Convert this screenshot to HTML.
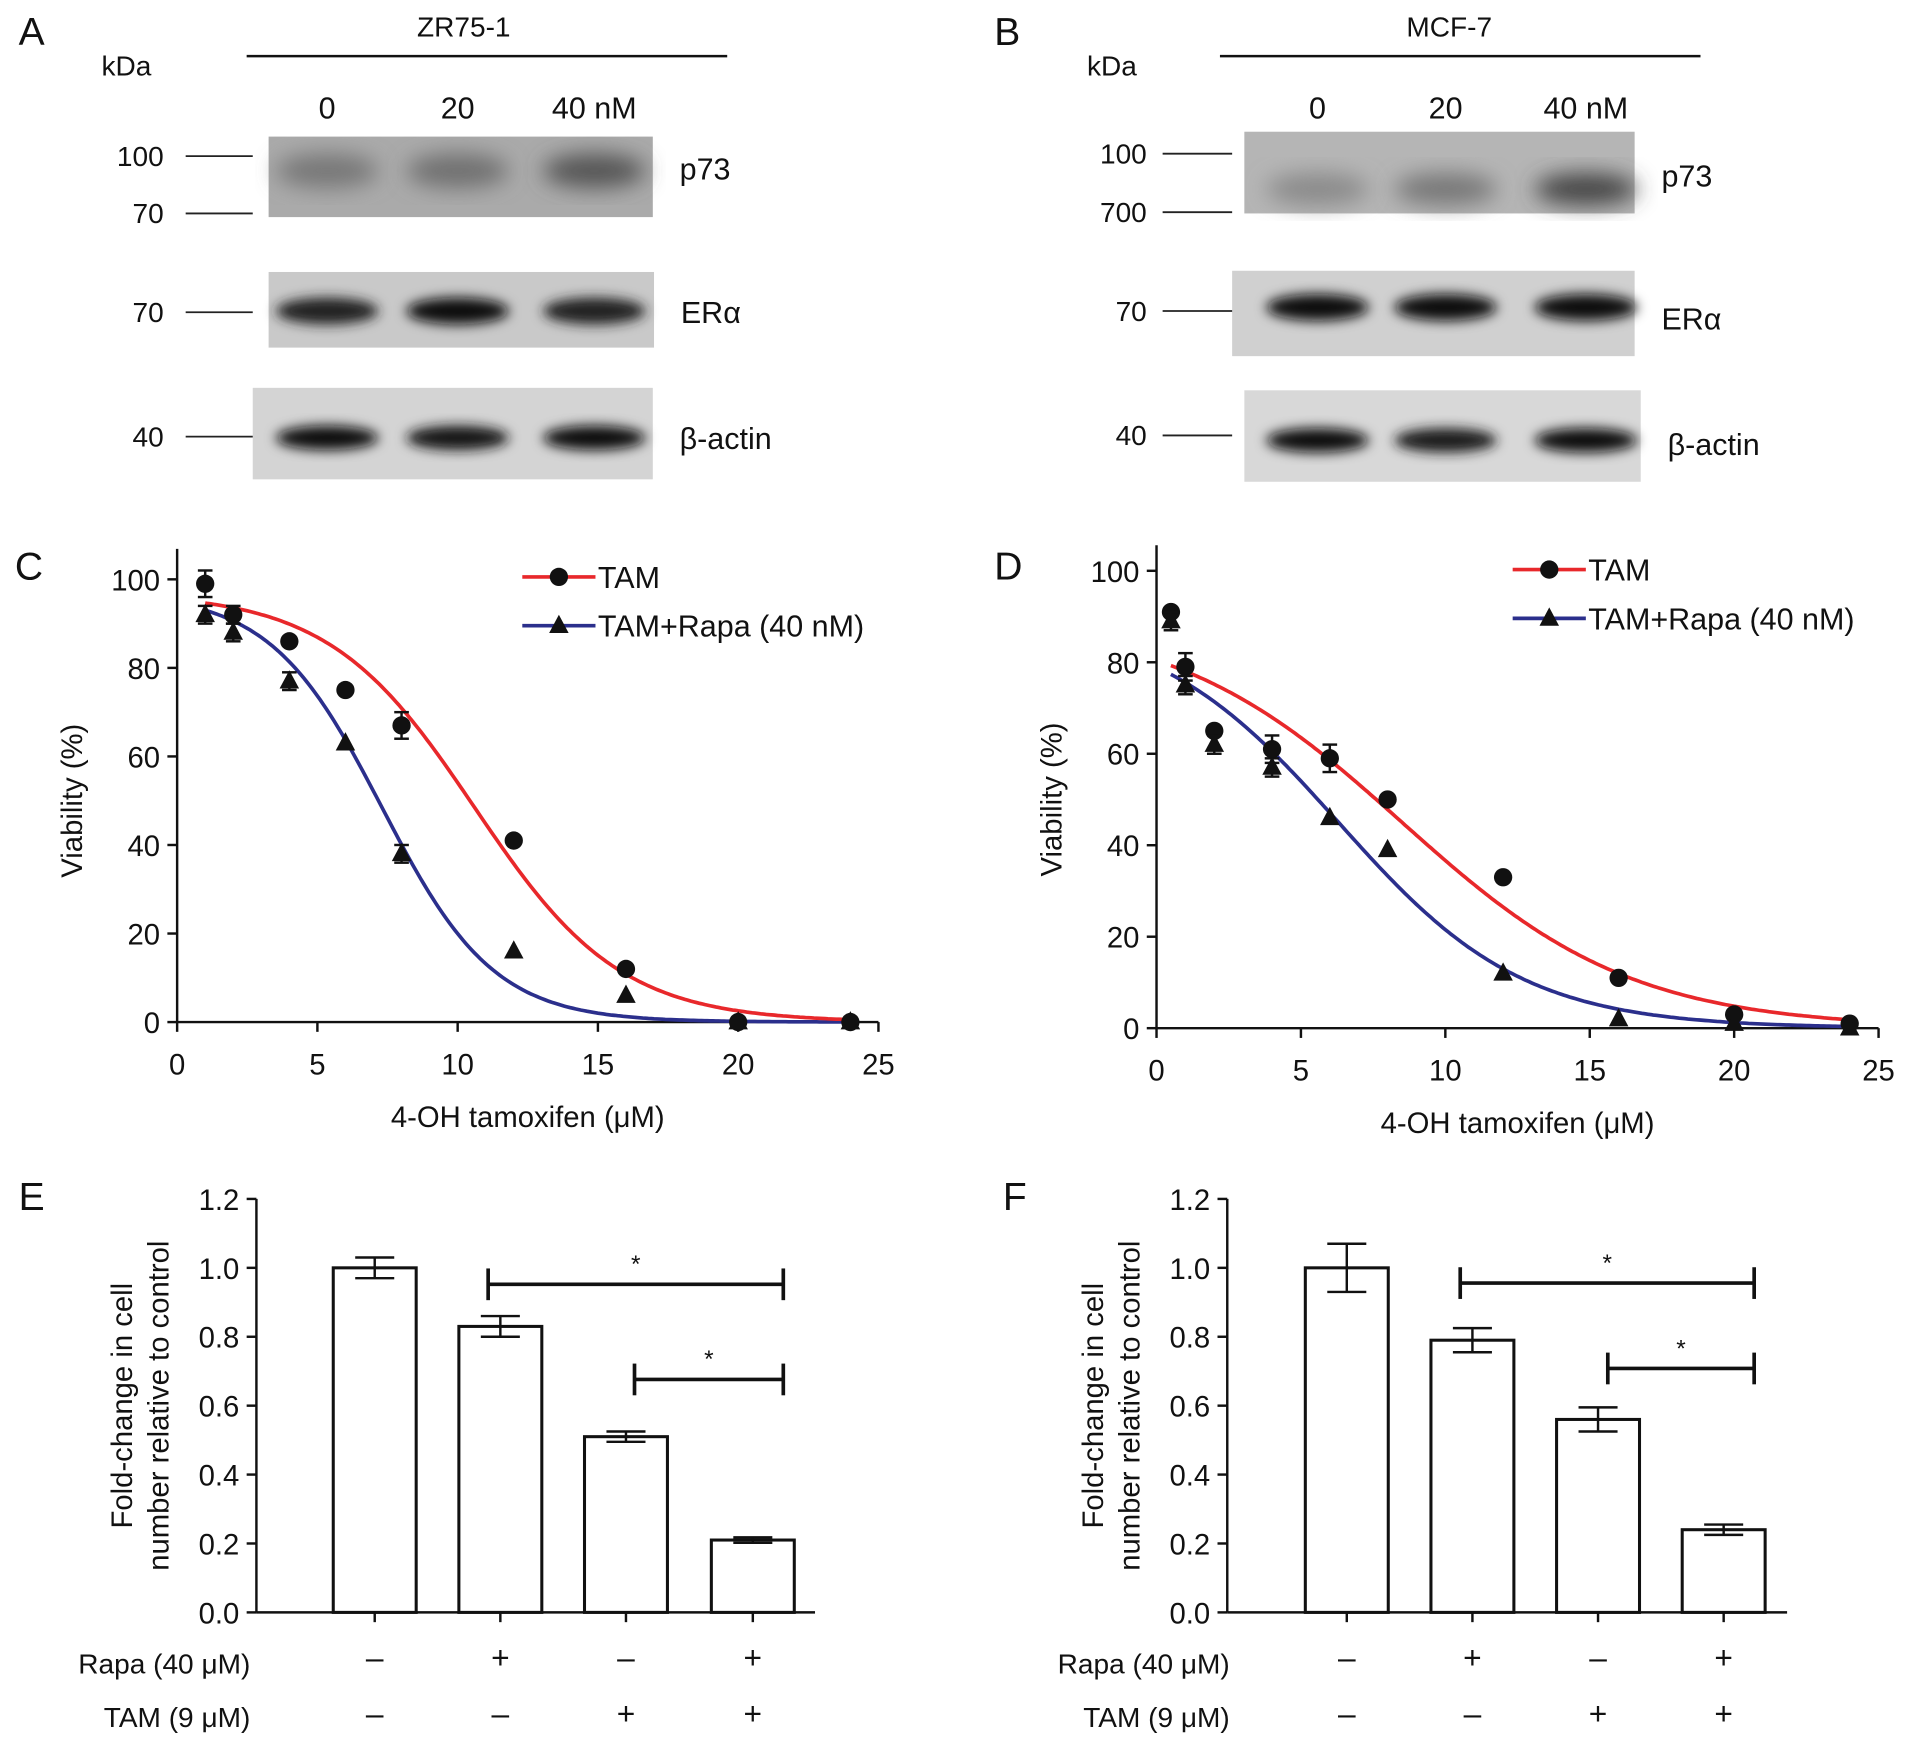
<!DOCTYPE html>
<html><head><meta charset="utf-8"><style>
html,body{margin:0;padding:0;background:#fff;}
svg{display:block;font-family:"Liberation Sans",Arial,sans-serif;}
</style></head><body>
<svg id="fig" width="1913" height="1749" viewBox="0 0 1568 1434" xmlns="http://www.w3.org/2000/svg">
<defs>
<filter id="blur" x="-20%" y="-50%" width="140%" height="200%"><feGaussianBlur stdDeviation="5"/></filter>
<filter id="blur2" x="-20%" y="-50%" width="140%" height="200%"><feGaussianBlur stdDeviation="9"/></filter>
</defs>
<g id="blots"></g>
<g id="curves"></g>
<g id="bars"></g>
</svg>
<script>
// ---- Dose-response data (C: ZR75-1, D: MCF-7) ----
const doseC = [1,2,4,6,8,12,16,20,24];
const tamC = [99,92,86,75,67,41,12,0,0];
const tamErrC = [3,2,0,0,3,0,0,0,0];
const rapaC = [92,88,77,63,38,16,6,0,0];
const rapaErrC = [2,2,2,0,2,0,0,0,0];
const fitTamC = [97,10.6,2.6];
const fitRapaC = [97,7.3,2.0];

const doseD = [0.5,1,2,4,6,8,12,16,20,24];
const tamD = [91,79,65,61,59,50,33,11,3,1];
const tamErrD = [0,3,0,3,3,0,0,0,0,0];
const rapaD = [89,75,62,57,46,39,12,2,1,0];
const rapaErrD = [2,2,2,2,0,0,0,0,0,0];
const fitTamD = [90,8.5,4.0];
const fitRapaD = [90,6.3,3.2];

const xTicks = [0,5,10,15,20,25];
const yTicks = [0,20,40,60,80,100];

// ---- Bar data (E, F) ----
const barTicks = [0,0.2,0.4,0.6,0.8,1.0,1.2];
const barTickLabels = ["0.0","0.2","0.4","0.6","0.8","1.0","1.2"];
const rapaSigns = ["\u2013","+","\u2013","+"];
const tamSigns = ["\u2013","\u2013","+","+"];
const valsE = [1.0,0.83,0.51,0.21];
const errE = [0.03,0.03,0.015,0.008];
const valsF = [1.0,0.79,0.56,0.24];
const errF = [0.07,0.035,0.035,0.015];

const NS="http://www.w3.org/2000/svg";
function el(tag,attrs,parent,text){const e=document.createElementNS(NS,tag);for(const k in attrs)e.setAttribute(k,attrs[k]);if(text!==undefined)e.textContent=text;parent.appendChild(e);return e;}

// ---------- Blots ----------
const blots=document.getElementById('blots');
function txt(x,y,s,size,anchor,parent,name){const t=el('text',{x:x,y:y,'font-size':size,'text-anchor':anchor||'start',fill:'#111'},parent,s);

return t;}
function blotPanel(o){
  const g=el('g',{},blots);
  
  
  txt(o.letterX,37,o.letter,32,'start',g,'panel-label');
  txt(o.kdaX,62,'kDa',23,'start',g,'kda-label');
  txt(o.titleX,30,o.title,23,'middle',g,'cell-line-title');
  el('line',{x1:o.lineX1,x2:o.lineX2,y1:46,y2:46,stroke:'#111','stroke-width':2},g);
  o.lanes.forEach((lx,i)=>txt(lx,97,['0','20','40 nM'][i],25,'middle',g,'dose-label'));
  o.rows.forEach(r=>{
    el('rect',{x:r.x1,y:r.y1,width:r.x2-r.x1,height:r.y2-r.y1,fill:r.bg},g);
    o.lanes.forEach((lx,i)=>{
      el('ellipse',{cx:lx,cy:r.by,rx:42,ry:r.bh,fill:r.band[i],filter:'url(#'+(r.soft?'blur2':'blur')+')'},g);
    });
    txt(r.x2+22,r.ly,r.label,25,'start',g,'protein-label');
  });
  o.markers.forEach(m=>{
    txt(m.tx,m.y+8,m.v,23,'end',g,'kda-marker');
    el('line',{x1:m.x1,x2:m.x2,y1:m.y,y2:m.y,stroke:'#222','stroke-width':1.5},g);
  });
}
blotPanel({letter:'A',letterX:15,kdaX:83,title:'ZR75-1',titleX:380,lineX1:202,lineX2:596,lanes:[268,375,487],
 rows:[
  {x1:220,x2:535,y1:112,y2:178,bg:'#aaa',by:140,bh:14,band:['#777','#707070','#555'],soft:true,label:'p73',ly:147},
  {x1:220,x2:536,y1:223,y2:285,bg:'#c9c9c9',by:255,bh:11,band:['#222','#111','#222'],label:'ER\u03b1',ly:265},
  {x1:207,x2:535,y1:318,y2:393,bg:'#d4d4d4',by:359,bh:10,band:['#111','#151515','#111'],label:'\u03b2-actin',ly:368}],
 markers:[{v:'100',y:128,tx:134,x1:152,x2:207},{v:'70',y:175,tx:134,x1:152,x2:207},{v:'70',y:256,tx:134,x1:152,x2:207},{v:'40',y:358,tx:134,x1:152,x2:207}]});
blotPanel({letter:'B',letterX:815,kdaX:891,title:'MCF-7',titleX:1188,lineX1:1000,lineX2:1394,lanes:[1080,1185,1300],
 rows:[
  {x1:1020,x2:1340,y1:108,y2:175,bg:'#b5b5b5',by:155,bh:13,band:['#8a8a8a','#777','#444'],soft:true,label:'p73',ly:153},
  {x1:1010,x2:1340,y1:222,y2:292,bg:'#d0d0d0',by:252,bh:11,band:['#111','#111','#0a0a0a'],label:'ER\u03b1',ly:270},
  {x1:1020,x2:1345,y1:320,y2:395,bg:'#d8d8d8',by:361,bh:10,band:['#111','#1a1a1a','#111'],label:'\u03b2-actin',ly:373}],
 markers:[{v:'100',y:126,tx:940,x1:953,x2:1010},{v:'700',y:174,tx:940,x1:953,x2:1010},{v:'70',y:255,tx:940,x1:953,x2:1010},{v:'40',y:357,tx:940,x1:953,x2:1010}]});

// ---------- Dose-response charts ----------
const curves=document.getElementById('curves');
function logistic(p,x){return p[0]/(1+Math.exp((x-p[1])/p[2]));}
function doseChart(o){
  const g=el('g',{},curves);
  
  
  const sx=v=>o.x0+(v-0)/25*(o.x1-o.x0);
  const sy=v=>o.y0-(v/100)*(o.y0-o.y1);
  txt(o.letterX,o.letterY,o.letter,32,'start',g,'panel-label');
  el('line',{x1:sx(0),x2:sx(0),y1:o.axTop,y2:o.y0,stroke:'#111','stroke-width':2},g);
  el('line',{x1:sx(0),x2:sx(25),y1:o.y0,y2:o.y0,stroke:'#111','stroke-width':2},g);
  yTicks.forEach(t=>{el('line',{x1:sx(0)-8,x2:sx(0),y1:sy(t),y2:sy(t),stroke:'#111','stroke-width':2},g);
    txt(sx(0)-14,sy(t)+9,String(t),24,'end',g,'y-tick-label');});
  xTicks.forEach(t=>{el('line',{x1:sx(t),x2:sx(t),y1:o.y0,y2:o.y0+8,stroke:'#111','stroke-width':2},g);
    txt(sx(t),o.y0+43,String(t),24,'middle',g,'x-tick-label');});
  txt((sx(0)+sx(25))/2,o.y0+86,'4-OH tamoxifen (\u03bcM)',24,'middle',g,'x-axis-title');
  const yt=txt(0,0,'Viability (%)',24,'middle',g,'y-axis-title');
  yt.setAttribute('transform','translate('+(o.x0-78)+','+((o.y0+o.y1)/2)+') rotate(-90)');
  [[o.fitRapa,'#2b2f8c',o.rapa,o.rapaErr,'tri'],[o.fitTam,'#e8282b',o.tam,o.tamErr,'circ']].forEach(s=>{
    let d='';for(let x=o.start;x<=24;x+=0.1){d+=(d?'L':'M')+sx(x).toFixed(1)+','+sy(logistic(s[0],x)).toFixed(1);}
    const p=el('path',{d:d,fill:'none',stroke:s[1],'stroke-width':3},g);
    
    
  });
  [[o.tam,o.tamErr,'circ'],[o.rapa,o.rapaErr,'tri']].forEach(s=>{
    o.dose.forEach((dx,i)=>{
      const cx=sx(dx),cy=sy(s[0][i]),e=s[1][i];
      if(e>0){el('line',{x1:cx,x2:cx,y1:sy(s[0][i]+e),y2:sy(s[0][i]-e),stroke:'#111','stroke-width':2},g);
        [s[0][i]+e,s[0][i]-e].forEach(v=>el('line',{x1:cx-6,x2:cx+6,y1:sy(v),y2:sy(v),stroke:'#111','stroke-width':2},g));}
      let m;
      if(s[2]==='circ'){m=el('circle',{cx:cx,cy:cy,r:7.5,fill:'#111'},g);}
      else{m=el('polygon',{points:(cx)+','+(cy-9)+' '+(cx-8)+','+(cy+6)+' '+(cx+8)+','+(cy+6),fill:'#111'},g);}
      
    });
  });
  const lg=el('g',{},g);
  
  
  el('line',{x1:o.lgX,x2:o.lgX+60,y1:o.lgY,y2:o.lgY,stroke:'#e8282b','stroke-width':3},lg);
  el('circle',{cx:o.lgX+30,cy:o.lgY,r:7.5,fill:'#111'},lg);
  txt(o.lgX+62,o.lgY+9,'TAM',25,'start',lg,'legend-entry-tam');
  el('line',{x1:o.lgX,x2:o.lgX+60,y1:o.lgY+40,y2:o.lgY+40,stroke:'#2b2f8c','stroke-width':3},lg);
  el('polygon',{points:(o.lgX+30)+','+(o.lgY+31)+' '+(o.lgX+22)+','+(o.lgY+46)+' '+(o.lgX+38)+','+(o.lgY+46),fill:'#111'},lg);
  txt(o.lgX+62,o.lgY+49,'TAM+Rapa (40 nM)',25,'start',lg,'legend-entry-tam-rapa');
}
doseChart({letter:'C',letterX:12,letterY:475,x0:145,x1:720,y0:838,y1:475,axTop:450,start:1,
  dose:doseC,tam:tamC,tamErr:tamErrC,rapa:rapaC,rapaErr:rapaErrC,fitTam:fitTamC,fitRapa:fitRapaC,lgX:428,lgY:473});
doseChart({letter:'D',letterX:815,letterY:475,x0:948,x1:1540,y0:843,y1:468,axTop:447,start:0.5,
  dose:doseD,tam:tamD,tamErr:tamErrD,rapa:rapaD,rapaErr:rapaErrD,fitTam:fitTamD,fitRapa:fitRapaD,lgX:1240,lgY:467});

// ---------- Bar charts ----------
const bars=document.getElementById('bars');
function barChart(o){
  const g=el('g',{},bars);
  
  
  const sy=v=>o.y0-v/1.2*(o.y0-o.y1);
  txt(o.letterX,992,o.letter,32,'start',g,'panel-label');
  el('line',{x1:o.ax,x2:o.ax,y1:sy(1.2),y2:o.y0,stroke:'#111','stroke-width':2},g);
  el('line',{x1:o.ax,x2:o.xEnd,y1:o.y0,y2:o.y0,stroke:'#111','stroke-width':2},g);
  barTicks.forEach((t,i)=>{el('line',{x1:o.ax-8,x2:o.ax,y1:sy(t),y2:sy(t),stroke:'#111','stroke-width':2},g);
    txt(o.ax-14,sy(t)+9,barTickLabels[i],24,'end',g,'y-tick-label');});
  const yt1=txt(0,0,'Fold-change in cell',24,'middle',g,'y-axis-title-line1');
  yt1.setAttribute('transform','translate('+(o.ax-102)+','+((o.y0+o.y1)/2)+') rotate(-90)');
  const yt2=txt(0,0,'number relative to control',24,'middle',g,'y-axis-title-line2');
  yt2.setAttribute('transform','translate('+(o.ax-72)+','+((o.y0+o.y1)/2)+') rotate(-90)');
  o.vals.forEach((v,i)=>{
    const cx=o.cx[i];
    const r=el('rect',{x:cx-34,y:sy(v),width:68,height:o.y0-sy(v),fill:'#fff',stroke:'#111','stroke-width':2.5},g);
    
    
    const e=o.err[i];
    el('line',{x1:cx,x2:cx,y1:sy(v+e),y2:sy(v-e),stroke:'#111','stroke-width':2},g);
    [v+e,v-e].forEach(w=>el('line',{x1:cx-16,x2:cx+16,y1:sy(w),y2:sy(w),stroke:'#111','stroke-width':2},g));
    el('line',{x1:cx,x2:cx,y1:o.y0,y2:o.y0+8,stroke:'#111','stroke-width':2},g);
    txt(cx,o.y0+46,rapaSigns[i],26,'middle',g,'rapa-sign');
    txt(cx,o.y0+92,tamSigns[i],26,'middle',g,'tam-sign');
  });
  txt(o.lblX,o.y0+50,'Rapa (40 \u03bcM)',23,'end',g,'rapa-row-label');
  txt(o.lblX,o.y0+94,'TAM (9 \u03bcM)',23,'end',g,'tam-row-label');
  o.sig.forEach(s=>{
    el('line',{x1:s[0],x2:s[1],y1:s[2],y2:s[2],stroke:'#111','stroke-width':3},g);
    el('line',{x1:s[0],x2:s[0],y1:s[2]-13,y2:s[2]+13,stroke:'#111','stroke-width':3},g);
    el('line',{x1:s[1],x2:s[1],y1:s[2]-13,y2:s[2]+13,stroke:'#111','stroke-width':3},g);
    txt((s[0]+s[1])/2,s[2]-10,'*',20,'middle',g,'significance-star');
  });
}
barChart({letter:'E',letterX:15,ax:210,xEnd:668,y0:1322,y1:983,cx:[307,410,513,617],vals:valsE,err:errE,lblX:205,
  sig:[[400,642,1053],[520,642,1131]]});
barChart({letter:'F',letterX:822,ax:1006,xEnd:1465,y0:1322,y1:983,cx:[1104,1207,1310,1413],vals:valsF,err:errF,lblX:1008,
  sig:[[1197,1438,1052],[1318,1438,1122]]});
</script>
</body></html>
